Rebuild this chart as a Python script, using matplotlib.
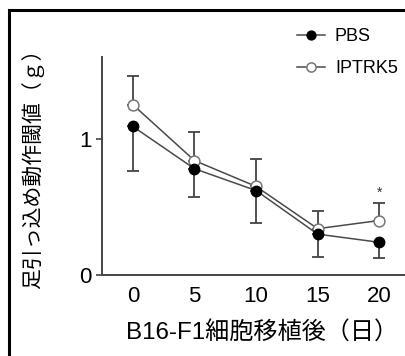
import matplotlib
matplotlib.use("Agg")
import matplotlib.pyplot as plt
from matplotlib.patches import Rectangle

days = [0, 5, 10, 15, 20]
pbs = [1.09, 0.78, 0.62, 0.30, 0.24]
iptrk5 = [1.25, 0.84, 0.65, 0.34, 0.40]
iptrk5_err_up = [0.21, 0.21, 0.205, 0.13, 0.125]
pbs_err_down = [0.33, 0.21, 0.235, 0.17, 0.115]
xticks = [0, 5, 10, 15, 20]
yticks = [0, 1]

plt.rcParams['font.family'] = ['Liberation Sans', 'Noto Sans CJK JP']

W, H = 406, 356
fig = plt.figure(figsize=(W / 100, H / 100), dpi=100)
fig.patches.append(Rectangle((9 / W, -0.2), 1.5, 1.2 - 10 / H,
                             transform=fig.transFigure, fill=False,
                             edgecolor='black', linewidth=2.2, zorder=0))

ax = fig.add_axes([101.7 / W, 1 - 275 / H, 1 - 101.7 / W + 0.01, (275 - 57) / H])
ax.patch.set_alpha(0)
ax.set_xlim(-2.53, 22.5)
ax.set_ylim(0, 1.6)

gray = '#4a4a4a'
ax.errorbar(days, iptrk5, yerr=[[0] * 5, iptrk5_err_up], fmt='none',
            ecolor='#444444', elinewidth=1.3, capsize=4, capthick=1.3, zorder=2)
ax.errorbar(days, pbs, yerr=[pbs_err_down, [0] * 5], fmt='none',
            ecolor='#444444', elinewidth=1.3, capsize=4, capthick=1.3, zorder=2)

ax.plot(days, pbs, '-o', color=gray, lw=1.1, markersize=7.5,
        markerfacecolor='black', markeredgecolor='black', zorder=4, label='PBS')
ax.plot(days, iptrk5, '-o', color=gray, lw=1.1, markersize=7.8,
        markerfacecolor='white', markeredgecolor='#777777', markeredgewidth=1.1,
        zorder=3, label='IPTRK5')

ax.text(20, 0.6, '*', ha='center', va='center', fontsize=10, color='#333333')

for s in ['top', 'right']:
    ax.spines[s].set_visible(False)
for s in ['left', 'bottom']:
    ax.spines[s].set_color('#444444')
    ax.spines[s].set_linewidth(1.4)

ax.set_xticks(xticks)
ax.set_yticks(yticks)
ax.tick_params(axis='x', length=0, pad=8, labelsize=16)
ax.tick_params(axis='y', length=4, width=1.2, color='#444444', pad=3, labelsize=16)

fig.legend(loc='upper left', bbox_to_anchor=(288 / W, 1 - 19 / H),
           bbox_transform=fig.transFigure, frameon=False, borderpad=0,
           fontsize=13, handlelength=1.55, handletextpad=0.55, labelspacing=0.85,
           markerscale=0.85)

fig.text(262 / W, 1 - 333 / H, 'B16-F1細胞移植後（日）', ha='center', va='center',
         fontsize=17.4)
fig.text(33 / W, 1 - 164 / H, '足引っ込め動作閾値（ｇ）', ha='center', va='center',
         rotation=90, fontsize=15)

fig.savefig('out.png', dpi=100)
